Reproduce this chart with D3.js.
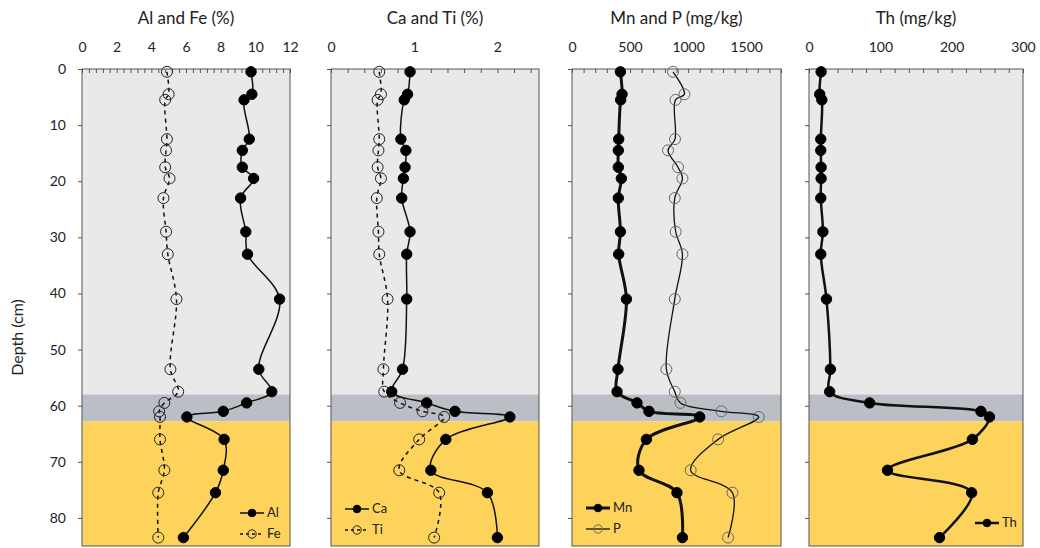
<!DOCTYPE html>
<html>
<head>
<meta charset="utf-8">
<script src="https://cdn.jsdelivr.net/npm/d3@7"></script>
<style>
  body { margin: 0; background: #fff; }
  text { font-family: Lato, "Open Sans", sans-serif; fill: #222; }
</style>
</head>
<body>
<script>
// sample depths (cm)
var depth = [0.5, 4.5, 5.5, 12.5, 14.5, 17.5, 19.5, 23, 29, 33, 41, 53.5, 57.5, 59.5, 61, 62, 66, 71.5, 75.5, 83.5];

var Al = [9.75, 9.8, 9.35, 9.65, 9.25, 9.25, 9.9, 9.15, 9.45, 9.55, 11.4, 10.2, 10.95, 9.5, 8.15, 6.05, 8.2, 8.15, 7.7, 5.85];
var Fe = [4.9, 5.0, 4.8, 4.9, 4.85, 4.8, 5.05, 4.7, 4.85, 4.95, 5.45, 5.1, 5.55, 4.75, 4.45, 4.5, 4.5, 4.75, 4.4, 4.4];
var Ca = [0.95, 0.92, 0.88, 0.84, 0.9, 0.89, 0.87, 0.85, 0.95, 0.91, 0.91, 0.86, 0.73, 1.15, 1.49, 2.15, 1.38, 1.2, 1.88, 2.0];
var Ti = [0.58, 0.6, 0.56, 0.58, 0.57, 0.56, 0.6, 0.55, 0.57, 0.58, 0.68, 0.63, 0.64, 0.83, 1.1, 1.36, 1.06, 0.82, 1.3, 1.24];
var Mn = [417, 431, 419, 402, 399, 399, 425, 399, 417, 402, 469, 396, 388, 560, 663, 1100, 641, 577, 904, 951];
var P  = [870, 968, 891, 887, 827, 913, 951, 885, 893, 951, 885, 813, 885, 934, 1287, 1608, 1258, 1022, 1382, 1344];
var Th = [17, 15, 18, 16.5, 16.5, 17, 17, 16.5, 19.5, 16.5, 24.5, 30, 29, 85, 241, 253, 229, 110, 228, 183];

var titles = ["Al and Fe (%)", "Ca and Ti (%)", "Mn and P (mg/kg)", "Th (mg/kg)"];
var depthTicks = [0, 10, 20, 30, 40, 50, 60, 70, 80];
// layer boundaries (cm)
var layers = [{from: 0, to: 58, color: "#e9e9e9"}, {from: 58, to: 62.8, color: "#bcbec5"}, {from: 62.8, to: 85, color: "#fdd35c"}];

var svg = d3.select("body").append("svg")
    .attr("width", 1040)
    .attr("height", 548);

var plotTop = 69, plotBottom = 546;
var y = d3.scaleLinear().domain([0, 85]).range([plotTop, plotBottom]);
var fontFam = "Lato, 'Open Sans', sans-serif";

var panels = [
  {left: 82, right: 290, max: 12, major: 2, minor: 0.4, legend: "right",
   series: [{name: "Al", values: Al, filled: true, width: 1.5},
            {name: "Fe", values: Fe, filled: false, width: 1.5, dash: "4,4"}]},
  {left: 331, right: 539, max: 2.5, major: 1, minor: 0.2, legend: "left",
   series: [{name: "Ca", values: Ca, filled: true, width: 1.5},
            {name: "Ti", values: Ti, filled: false, width: 1.5, dash: "4,4"}]},
  {left: 572, right: 781, max: 1800, major: 500, minor: 100, legend: "left",
   series: [{name: "Mn", values: Mn, filled: true, width: 3},
            {name: "P", values: P, filled: false, width: 1.3, grey: true}]},
  {left: 809, right: 1023, max: 300, major: 100, minor: 20, legend: "right",
   series: [{name: "Th", values: Th, filled: true, width: 2.5}]}
];

panels.forEach(function(p, i) {
  var x = d3.scaleLinear().domain([0, p.max]).range([p.left, p.right]);
  var g = svg.append("g");

  layers.forEach(function(l) {
    g.append("rect")
      .attr("x", p.left).attr("width", p.right - p.left)
      .attr("y", y(l.from)).attr("height", y(l.to) - y(l.from))
      .attr("fill", l.color);
  });

  // top axis: minor ticks pointing in, labels at major values
  var minorTicks = d3.range(0, p.max + 1e-9, p.minor);
  g.append("g")
    .attr("transform", "translate(0," + plotTop + ")")
    .call(d3.axisBottom(x).tickValues(minorTicks).tickSize(4).tickFormat(""))
    .call(function(a) { a.select(".domain").remove(); a.selectAll("line").attr("stroke", "#555"); });

  g.append("g")
    .attr("transform", "translate(0," + (plotTop - 13) + ")")
    .call(d3.axisTop(x).tickValues(d3.range(0, p.max + 1e-9, p.major)).tickSize(0).tickPadding(4).tickFormat(d3.format("d")))
    .call(function(a) {
      a.select(".domain").remove();
      a.selectAll("text").style("font-size", "14px").style("font-family", fontFam).attr("fill", "#222");
    });

  // left depth ticks (outside)
  g.append("g")
    .attr("transform", "translate(" + p.left + ",0)")
    .call(d3.axisLeft(y).tickValues(depthTicks).tickSize(4).tickPadding(12).tickFormat(i === 0 ? d3.format("d") : ""))
    .call(function(a) {
      a.select(".domain").remove();
      a.selectAll("line").attr("stroke", "#555");
      a.selectAll("text").style("font-size", "14px").style("font-family", fontFam).attr("fill", "#222");
    });

  g.append("rect")
    .attr("x", p.left).attr("y", plotTop)
    .attr("width", p.right - p.left).attr("height", plotBottom - plotTop)
    .attr("fill", "none").attr("stroke", "#555").attr("stroke-width", 1);

  g.append("text")
    .attr("x", (p.left + p.right) / 2).attr("y", 24)
    .attr("text-anchor", "middle")
    .style("font-size", "17px")
    .text(titles[i]);

  p.series.forEach(function(s, k) {
    var pts = depth.map(function(d, j) { return {d: d, v: s.values[j]}; });
    var line = d3.line()
      .x(function(d) { return x(d.v); })
      .y(function(d) { return y(d.d); })
      .curve(d3.curveCatmullRom.alpha(0.5));

    g.append("path")
      .datum(pts)
      .attr("d", line)
      .attr("fill", "none")
      .attr("stroke", "#111")
      .attr("stroke-width", s.width)
      .attr("stroke-dasharray", s.dash || null);

    g.selectAll(".pt" + k)
      .data(pts)
      .enter().append("circle")
      .attr("cx", function(d) { return x(d.v); })
      .attr("cy", function(d) { return y(d.d); })
      .attr("r", s.filled ? 5.2 : 5.5)
      .attr("fill", s.filled ? "#000" : "none")
      .attr("stroke", s.filled ? "#000" : (s.grey ? "#666" : "#222"))
      .attr("stroke-width", 1);

    // legend
    var lx = p.legend === "right" ? p.right - 50 : p.left + 14;
    if (i === 3) lx = p.right - 48;
    var ly = (p.series.length === 1 ? 523 : (i === 2 ? 508 : (i === 1 ? 509 : 513))) + k * 21;
    g.append("line")
      .attr("x1", lx).attr("x2", lx + 24)
      .attr("y1", ly).attr("y2", ly)
      .attr("stroke", "#111")
      .attr("stroke-width", s.width)
      .attr("stroke-dasharray", s.dash ? "3,3" : null);
    g.append("circle")
      .attr("cx", lx + 12).attr("cy", ly).attr("r", s.filled ? 3.8 : 4.2)
      .attr("fill", s.filled ? "#000" : "none")
      .attr("stroke", s.filled ? "#000" : (s.grey ? "#666" : "#222"));
    g.append("text")
      .attr("x", lx + 27).attr("y", ly + 4)
      .style("font-size", "13px")
      .text(s.name);
  });
});

svg.append("text")
  .attr("transform", "translate(23," + ((plotTop + plotBottom) / 2 + 30) + ") rotate(-90)")
  .attr("text-anchor", "middle")
  .style("font-size", "16px")
  .text("Depth (cm)");
</script>
</body>
</html>
